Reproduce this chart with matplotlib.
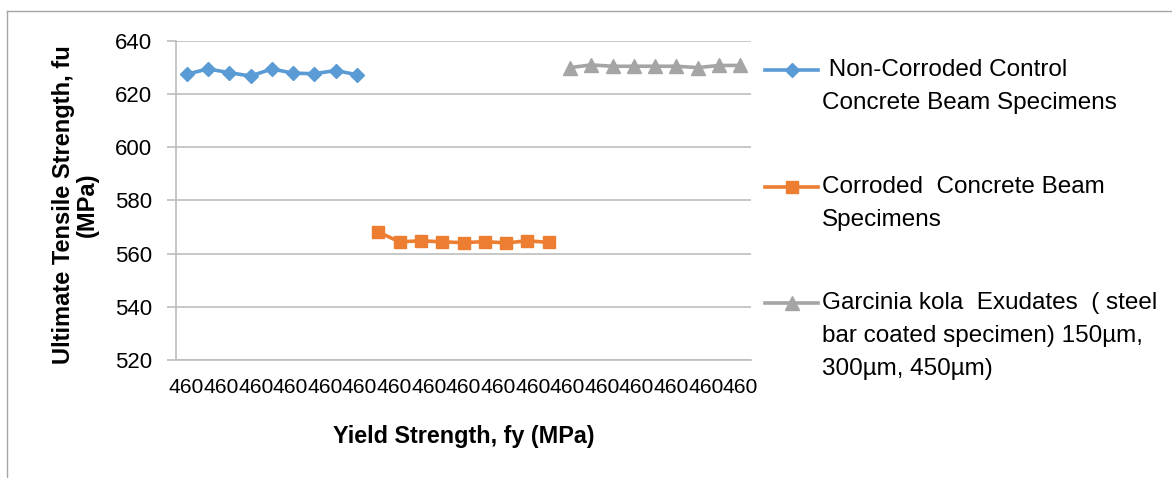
import matplotlib
matplotlib.use("Agg")
import matplotlib.pyplot as plt
from matplotlib.lines import Line2D
import numpy as np

plt.rcParams['font.family'] = ['Liberation Sans', 'DejaVu Sans']

# Category labels along the x axis (yield strength, MPa)
yield_strength = ["460", "460", "460", "460", "460", "460", "460", "460", "460",
                  "460", "460", "460", "460", "460", "460", "460", "460", "460",
                  "460", "460", "460", "460", "460", "460", "460", "460", "460"]

# Ultimate tensile strength (MPa) for each group of specimens
non_corroded = [627.4, 629.4, 628.0, 626.7, 629.4, 627.8, 627.6, 628.8, 627.2]
corroded = [568.1, 564.4, 564.8, 564.4, 564.1, 564.5, 564.0, 564.8, 564.2]
coated = [629.9, 630.9, 630.4, 630.4, 630.4, 630.4, 629.9, 630.7, 630.7]

series_names = [
    " Non-Corroded Control\nConcrete Beam Specimens",
    "Corroded  Concrete Beam\nSpecimens",
    "Garcinia kola  Exudates  ( steel\nbar coated specimen) 150\u00b5m,\n300\u00b5m, 450\u00b5m)",
]
series_values = [non_corroded, corroded, coated]
series_colors = ["#5B9BD5", "#ED7D31", "#A5A5A5"]
series_markers = ["D", "s", "^"]
marker_sizes = [7.6, 9.2, 9.6]

y_ticks = [520, 540, 560, 580, 600, 620, 640]

W, H = 1172, 478
fig = plt.figure(figsize=(W / 100, H / 100), dpi=100)
fig.patch.set_facecolor("white")


def fx(px):
    return px / W


def fy(py):
    return 1 - py / H


ax = fig.add_axes([fx(176), fy(360), fx(751) - fx(176), fy(40.7) - fy(360)])

grid_color = "#bdbdbd"
lines = []
offset = 0
for vals, col, mk, ms in zip(series_values, series_colors, series_markers, marker_sizes):
    x = np.arange(len(vals)) + offset
    ln, = ax.plot(x, vals, color=col, lw=2.6, marker=mk, ms=ms,
                  markerfacecolor=col, markeredgecolor=col, zorder=3)
    lines.append(ln)
    offset += len(vals)

ax.set_xlim(-0.5, len(yield_strength) - 0.5)
ax.set_ylim(y_ticks[0], y_ticks[-1])
ax.set_yticks(y_ticks)
ax.set_yticklabels([str(t) for t in y_ticks], fontsize=16)

# 17 evenly spread category labels across the category range
n_lab = 17
tick_pos = np.linspace(0, len(yield_strength) - 1, n_lab)
ax.set_xticks(tick_pos)
ax.set_xticklabels([yield_strength[int(round(p))] for p in tick_pos], fontsize=15.2)

ax.yaxis.grid(True, color=grid_color, lw=1.2)
ax.set_axisbelow(True)
for s in ["top", "right"]:
    ax.spines[s].set_visible(False)
for s in ["left", "bottom"]:
    ax.spines[s].set_color(grid_color)
    ax.spines[s].set_linewidth(1.2)
ax.tick_params(axis="y", length=6.5, width=1.2, color=grid_color, pad=11)
ax.tick_params(axis="x", length=0, pad=13)

# Axis titles
fig.text(fx(75), fy(205), "Ultimate Tensile Strength, fu\n(MPa)", rotation=90,
         ha="center", va="center", multialignment="center", fontsize=17,
         fontweight="bold", linespacing=1.05)
fig.text(fx(464), fy(437), "Yield Strength, fy (MPa)", ha="center", va="center",
         fontsize=16.8, fontweight="bold")

# Legend drawn beside the plot, one entry per series
entry_y = [70, 187, 303]
line_gap = 33
for ln, name, ey in zip(lines, series_names, entry_y):
    fig.add_artist(Line2D([fx(765), fx(818)], [fy(ey), fy(ey)], transform=fig.transFigure,
                          color=ln.get_color(), lw=2.6))
    fig.add_artist(Line2D([fx(791.5)], [fy(ey)], transform=fig.transFigure,
                          marker=ln.get_marker(), ms=ln.get_markersize(),
                          color=ln.get_color(), lw=0))
    for i, part in enumerate(name.split("\n")):
        fig.text(fx(822), fy(ey + i * line_gap), part, ha="left", va="center",
                 fontsize=17.5)

# Outer chart frame
frame_col = "#a6a6a6"
fig.add_artist(Line2D([fx(7), fx(7)], [fy(11), 0], transform=fig.transFigure,
                      color=frame_col, lw=1))
fig.add_artist(Line2D([fx(7), 1], [fy(11), fy(11)], transform=fig.transFigure,
                      color=frame_col, lw=1))

fig.savefig("out.png", dpi=100)
